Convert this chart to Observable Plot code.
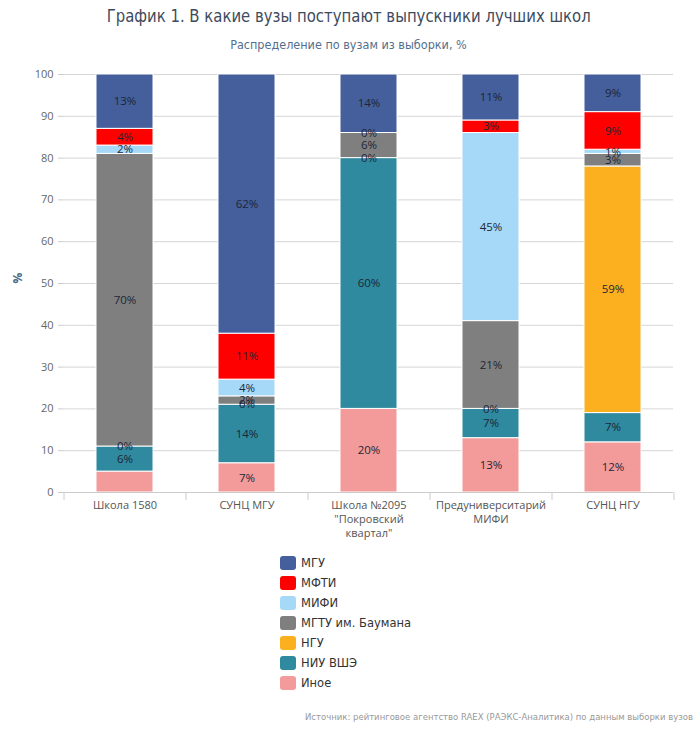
<!DOCTYPE html>
<html><head><meta charset="utf-8">
<script src="https://cdn.jsdelivr.net/npm/d3@7"></script>
<script src="https://cdn.jsdelivr.net/npm/@observablehq/plot@0.6"></script>
<style>
body{margin:0;background:#fff;}
#wrap{position:relative;width:697px;height:736px;overflow:hidden;background:#fff;}
#title{position:absolute;left:0;top:5px;width:697px;text-align:center;font:18.5px "DejaVu Sans",sans-serif;color:#3d4b5e;}
#title span{display:inline-block;transform:scaleX(0.805);}
#subtitle{position:absolute;left:0;top:37px;width:697px;text-align:center;font:12.5px "DejaVu Sans",sans-serif;color:#52708e;}
#subtitle span{display:inline-block;transform:scaleX(0.9);}
#chart{position:absolute;left:0;top:60px;}
#legend{position:absolute;left:280px;top:553px;}
.item{display:flex;align-items:center;height:20px;font:11.5px "DejaVu Sans",sans-serif;color:#333;}
.sw{width:16px;height:14px;border-radius:3px;margin-right:5px;}
#source{position:absolute;right:4px;top:712px;font:8.5px "DejaVu Sans",sans-serif;color:#999;}
</style></head>
<body><div id="wrap">
<div id="title"><span>График 1. В какие вузы поступают выпускники лучших школ</span></div>
<div id="subtitle"><span>Распределение по вузам из выборки, %</span></div>
<div id="chart"></div>
<div id="legend"></div>
<div id="source">Источник: рейтинговое агентство RAEX (РАЭКС-Аналитика) по данным выборки вузов</div>
</div>
<script>
const categories = ["Школа 1580", "СУНЦ МГУ", "Школа №2095\n\"Покровский\nквартал\"", "Предуниверситарий\nМИФИ", "СУНЦ НГУ"];
// stack order, bottom to top
const series = ["Иное", "НИУ ВШЭ", "НГУ", "МГТУ им. Баумана", "МИФИ", "МФТИ", "МГУ"];
const colors = ["#f39b9b", "#2f8a9f", "#fcb01f", "#7f7f7f", "#a6d9f7", "#ff0000", "#445f9c"];
const inoe = [5, 7, 20, 13, 12];
const vshe = [6, 14, 60, 7, 7];
const ngu = [0, 0, 0, 0, 59];
const mgtu = [70, 2, 6, 21, 3];
const mifi = [2, 4, 0, 45, 1];
const mfti = [4, 11, 0, 3, 9];
const mgu = [13, 62, 14, 11, 9];
const seriesValues = [inoe, vshe, ngu, mgtu, mifi, mfti, mgu];
const legendOrder = ["МГУ", "МФТИ", "МИФИ", "МГТУ им. Баумана", "НГУ", "НИУ ВШЭ", "Иное"];
const yTicks = [0, 10, 20, 30, 40, 50, 60, 70, 80, 90, 100];
// labels not shown in the original
const hiddenLabels = [[0, "Иное"], [2, "МФТИ"]];

const data = [];
series.forEach((s, i) => categories.forEach((c, j) => {
  const hidden = hiddenLabels.some(([k, n]) => k === j && n === s);
  data.push({cat: c, series: s, value: seriesValues[i][j], label: hidden ? "" : seriesValues[i][j] + "%"});
}));

const W = 697, H = 480, mt = 14, mb = 48, ml = 63, mr = 24;
const step = (W - ml - mr) / categories.length;

const chart = Plot.plot({
  width: W, height: H, marginTop: mt, marginBottom: mb, marginLeft: ml, marginRight: mr,
  style: {fontFamily: "'Open Sans', sans-serif", fontSize: "11px", color: "#666", background: "#fff"},
  x: {domain: categories, paddingInner: 0.533, paddingOuter: 0.2665, label: null},
  y: {domain: [0, 100], label: null},
  color: {domain: series, range: colors},
  marks: [
    Plot.gridY(yTicks, {stroke: "#d6d6d6", strokeOpacity: 1}),
    Plot.barY(data, {x: "cat", y: "value", fill: "series", stroke: "#fff", strokeWidth: 1}),
    Plot.text(data, Plot.stackY({x: "cat", y: "value", z: "series", text: "label", fill: "#1d2636", fontSize: 11.5, fontFamily: "'Open Sans', sans-serif"})),
    Plot.ruleY([0], {stroke: "#ccc"}),
    Plot.ruleX(categories, {x: d => d, dx: -step / 2, insetTop: H - mt - mb, insetBottom: -8, stroke: "#ccc"}),
    Plot.ruleX(categories.slice(-1), {x: d => d, dx: step / 2, insetTop: H - mt - mb, insetBottom: -8, stroke: "#ccc"}),
    Plot.axisY(yTicks, {tickSize: 5, tickPadding: 5, stroke: "#ccc", fill: "#666", label: null}),
    Plot.axisX({tickSize: 0, tickPadding: 6, lineHeight: 1.3, fill: "#555", label: null}),
    Plot.text(["%"], {frameAnchor: "left", dx: -45, rotate: -90, fill: "#4a6e8a", fontWeight: "bold", fontSize: 12})
  ]
});
document.getElementById("chart").appendChild(chart);

const legend = document.getElementById("legend");
legendOrder.forEach(name => {
  const item = document.createElement("div");
  item.className = "item";
  const sw = document.createElement("div");
  sw.className = "sw";
  sw.style.background = colors[series.indexOf(name)];
  const t = document.createElement("span");
  t.textContent = name;
  item.appendChild(sw); item.appendChild(t);
  legend.appendChild(item);
});
</script>
</body></html>
